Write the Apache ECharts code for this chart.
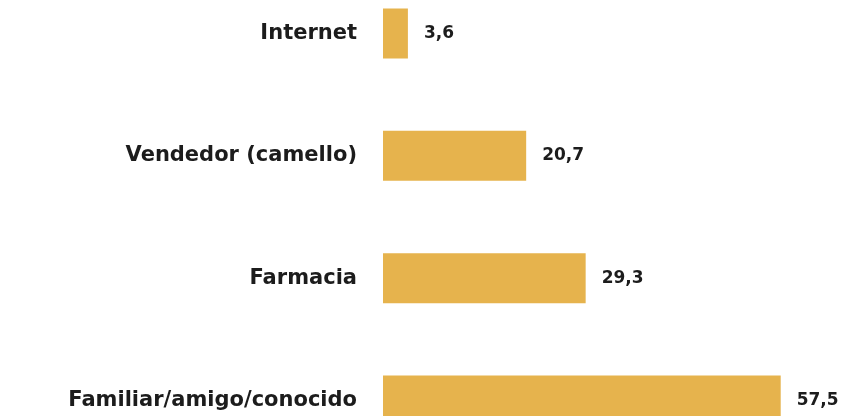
<!DOCTYPE html>
<html><head><meta charset="utf-8">
<script src="https://cdn.jsdelivr.net/npm/echarts@6/dist/echarts.min.js"></script>
<style>html,body{margin:0;padding:0;background:#fff}#c{width:847px;height:416px}</style>
</head><body><div id="c"></div>
<script>
const categories = ['Internet', 'Vendedor (camello)', 'Farmacia', 'Familiar/amigo/conocido'];
const values = [3.6, 20.7, 29.3, 57.5];

const chart = echarts.init(document.getElementById('c'));
chart.setOption({
  animation: false,
  grid: { left: 383, right: 49, top: 33.5, bottom: 15.5, containLabel: false },
  xAxis: { type: 'value', min: 0, max: 60, show: false },
  yAxis: {
    type: 'category', data: categories, inverse: true, boundaryGap: false,
    axisLine: { show: false }, axisTick: { show: false }, splitLine: { show: false },
    axisLabel: { margin: 26, color: '#1c1c1c', fontSize: 21, fontWeight: 'bold', fontFamily: '"DejaVu Sans", sans-serif' }
  },
  series: [{
    type: 'bar', data: values, barWidth: 50,
    itemStyle: { color: '#E6B34D' },
    label: {
      show: true, position: 'right', distance: 16,
      color: '#1c1c1c', fontSize: 17, fontWeight: 'bold', fontFamily: '"DejaVu Sans", sans-serif',
      formatter: p => String(p.value).replace('.', ',')
    }
  }]
});
</script></body></html>
